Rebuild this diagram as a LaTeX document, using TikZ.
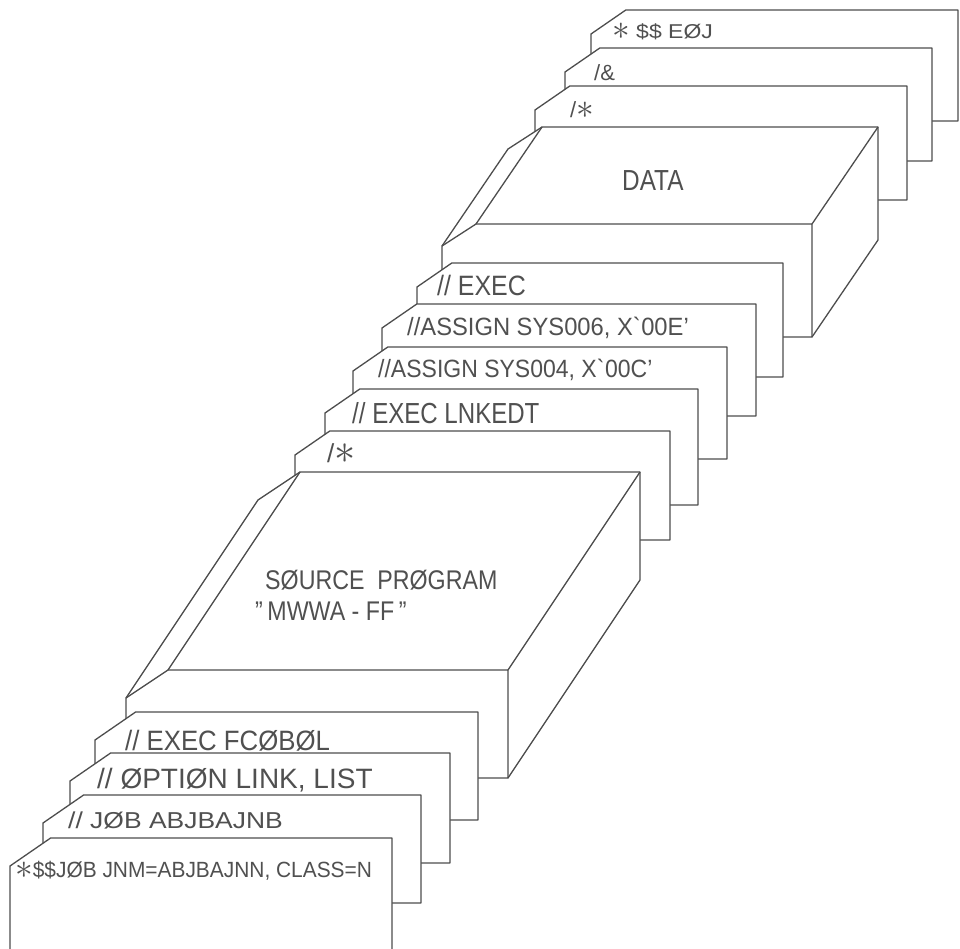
\documentclass[tikz,border=0pt]{standalone}
\usepackage{fontspec}
\setmainfont{Liberation Sans}
\usepackage{graphicx}

\definecolor{pencil}{HTML}{4D4D4D}
\definecolor{ink}{HTML}{505050}

% big centred asterisk, as lettered by hand
\newcommand{\jstar}{\raisebox{-0.07em}{\scalebox{1.7}{$\ast$}}}

% one card: [corner cut] left, top, right, bottom
\newcommand{\jclcard}[5][28]{%
  \filldraw[card] (#2,#3+#1) -- (#2+1.45*#1,#3) -- (#4,#3) -- (#4,#5) -- (#2,#5) -- cycle;}

\begin{document}
\begin{tikzpicture}[
  x=1pt, y=-1pt,
  card/.style={draw=pencil, fill=white, line width=1.3pt, line join=round},
  fold/.style={draw=pencil, line width=1.3pt, line join=round},
  hand/.style 2 args={anchor=base west, inner sep=0pt, text=ink,
    font=\fontsize{#1}{#1}\selectfont\addfontfeature{FakeStretch=#2}}
]
\useasboundingbox (0,0) rectangle (960,948);

% end of job
\jclcard[24]{591}{10}{958}{121}
\jclcard[24]{565}{48}{932}{161}
\jclcard[24]{535}{86}{907}{200}

% data deck
\filldraw[card] (442,246) -- (508,149) -- (542,127) -- (878,127) -- (878,240) -- (812,337) -- (442,337) -- cycle;
\draw[fold] (442,246) -- (476,224) -- (812,224) -- (812,337);
\draw[fold] (476,224) -- (542,127);
\draw[fold] (812,224) -- (878,127);

% link edit
\jclcard[24]{417}{263}{783}{377}
\jclcard[24]{382}{304}{756}{416}
\jclcard[24]{353}{347}{727}{459}
\jclcard[24]{325}{389}{698}{505}
\jclcard[24]{295}{431}{670}{540}

% source deck
\filldraw[card] (126,698) -- (258,500) -- (300,472) -- (640,472) -- (640,580) -- (508,778) -- (126,778) -- cycle;
\draw[fold] (126,698) -- (168,670) -- (508,670) -- (508,778);
\draw[fold] (168,670) -- (300,472);
\draw[fold] (508,670) -- (640,472);

% compile
\jclcard{95}{712}{478}{820}
\jclcard{70}{753}{450}{863}
\jclcard{43}{795}{421}{903}
\jclcard{10}{838}{392}{960}

% card texts
\node[hand={20}{1.15}] (eoj) at (612,38) {\jstar\ \$\$\ EØJ};
\node[hand={22}{1.0}] (amp) at (594,80) {/\&};
\node[hand={22}{1.0}] (enddata) at (570,117) {/\jstar};
\node[hand={29}{0.84}] (data) at (622,190) {DATA};
\node[hand={28}{0.89}] (exec) at (437,295) {// EXEC};
\node[hand={25}{0.95}] (sysE) at (407,335) {//ASSIGN SYS006, X\textasciigrave00E'};
\node[hand={25}{0.92}] (sysC) at (378,377) {//ASSIGN SYS004, X\textasciigrave00C'};
\node[hand={29}{0.83}] (lnkedt) at (352,423) {// EXEC LNKEDT};
\node[hand={26}{1.0}] (endsrc) at (327,462) {/\jstar};
\node[hand={27}{0.86}] (srcname) at (265,589) {SØURCE\ \ PRØGRAM};
\node[hand={27}{0.86}] (srcid) at (255,620) {"\,MWWA - FF\,"};
\node[hand={28}{0.92}] (fcobol) at (125,750) {// EXEC FCØBØL};
\node[hand={28}{1.0}] (option) at (97,788) {// ØPTIØN LINK, LIST};
\node[hand={23}{1.15}] (job) at (68,828) {// JØB ABJBAJNB};
\node[hand={22}{0.95}] (jnm) at (15,877) {\jstar\$\$JØB JNM=ABJBAJNN, CLASS=N};

\end{tikzpicture}
\end{document}
